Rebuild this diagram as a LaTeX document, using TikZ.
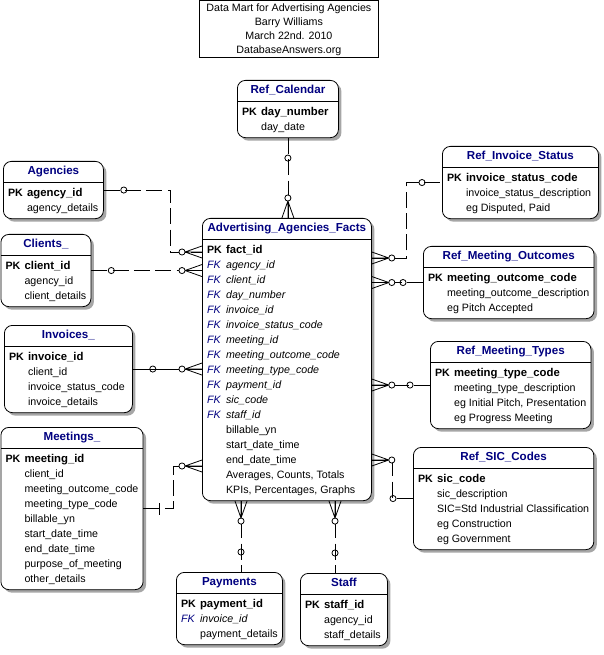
\documentclass[tikz,border=0pt]{standalone}
\usepackage{fontspec}
\setmainfont{Liberation Sans}
\usepackage{tikz}
\usetikzlibrary{shapes.multipart,shadows,calc,positioning}
\usepackage{xcolor}

\definecolor{erblue}{RGB}{0,0,128}

\newcommand{\entitle}[1]{{\fontsize{8.7}{11.25}\selectfont\textbf{\color{erblue}#1}}\strut}
\newcommand{\fields}[1]{\begin{tabular}{@{}p{14.25pt}@{}l@{}}#1\end{tabular}}
\newcommand{\pkrow}[1]{\textbf{PK}&{\fontsize{8.5}{11.25}\selectfont\textbf{#1}}\\}
\newcommand{\fkrow}[1]{\textit{\color{erblue}FK}&\textit{#1}\\}
\newcommand{\plainrow}[1]{&#1\\}

\tikzset{
  entity/.style={rectangle split, rectangle split parts=2,
    rectangle split part align={center,left},
    draw, line width=0.6pt, rounded corners=6pt, fill=white,
    drop shadow={shadow xshift=2.25pt, shadow yshift=-2.25pt, fill=black!35, opacity=1},
    inner xsep=3.5pt, inner ysep=2pt, anchor=north west},
  rel/.style={line width=0.6pt, dash pattern=on 12pt off 4pt},
  idrel/.style={line width=0.6pt},
  many/.pic={\draw[line width=0.6pt] (0,-6) -- (-17,0) -- (0,6) (0,0) -- (-17,0);
             \draw[line width=0.6pt, fill=white] (-20,0) circle[radius=2.3pt];},
  ring/.pic={\draw[line width=0.6pt] (-20,0) circle[radius=2.3pt];},
  bar/.pic={\draw[line width=0.6pt] (-16,-6) -- (-16,6);}
}

\begin{document}
\begin{tikzpicture}[x=0.75pt, y=-0.75pt, font=\fontsize{8}{11.25}\selectfont]
  \useasboundingbox (0,0) rectangle (603,655);

  % heading
  \node[draw, fill=white, line width=0.6pt, minimum width=134.25pt, minimum height=42.75pt,
        align=center, inner sep=0pt, font=\fontsize{8}{10.5}\selectfont, anchor=north west]
        (info) at (199,0.5) {Data Mart for Advertising Agencies\\Barry Williams\\March 22nd. 2010\\DatabaseAnswers.org};

  % entities
  \node[entity, minimum width=75.75pt, minimum height=47.25pt] (cal) at (237,80)
    {\entitle{Ref\_Calendar}\nodepart{two}\fields{\pkrow{day\_number}\plainrow{day\_date}}};
  \node[entity, minimum width=75pt, minimum height=46.5pt] (agencies) at (3,161)
    {\entitle{Agencies}\nodepart{two}\fields{\pkrow{agency\_id}\plainrow{agency\_details}}};
  \node[entity, minimum width=66.75pt, minimum height=57pt] (clients) at (0.5,234)
    {\entitle{Clients\_}\nodepart{two}\fields{\pkrow{client\_id}\plainrow{agency\_id}\plainrow{client\_details}}};
  \node[entity, minimum width=96pt, minimum height=69pt] (invoices) at (4,325)
    {\entitle{Invoices\_}\nodepart{two}\fields{\pkrow{invoice\_id}\plainrow{client\_id}\plainrow{invoice\_status\_code}\plainrow{invoice\_details}}};
  \node[entity, minimum width=105.75pt, minimum height=125.25pt] (meetings) at (0.5,427)
    {\entitle{Meetings\_}\nodepart{two}\fields{\pkrow{meeting\_id}\plainrow{client\_id}\plainrow{meeting\_outcome\_code}\plainrow{meeting\_type\_code}\plainrow{billable\_yn}\plainrow{start\_date\_time}\plainrow{end\_date\_time}\plainrow{purpose\_of\_meeting}\plainrow{other\_details}}};

  \node[entity, minimum width=126.75pt, minimum height=221.25pt] (facts) at (202,218)
    {\entitle{Advertising\_Agencies\_Facts}\nodepart{two}\fields{\pkrow{fact\_id}\fkrow{agency\_id}\fkrow{client\_id}\fkrow{day\_number}\fkrow{invoice\_id}\fkrow{invoice\_status\_code}\fkrow{meeting\_id}\fkrow{meeting\_outcome\_code}\fkrow{meeting\_type\_code}\fkrow{payment\_id}\fkrow{sic\_code}\fkrow{staff\_id}\plainrow{billable\_yn}\plainrow{start\_date\_time}\plainrow{end\_date\_time}\plainrow{Averages, Counts, Totals}\plainrow{KPIs, Percentages, Graphs}}};

  \node[entity, minimum width=117pt, minimum height=57pt] (ris) at (442,146)
    {\entitle{Ref\_Invoice\_Status}\nodepart{two}\fields{\pkrow{invoice\_status\_code}\plainrow{invoice\_status\_description}\plainrow{eg Disputed, Paid}}};
  \node[entity, minimum width=127.5pt, minimum height=57pt] (rmo) at (423,246)
    {\entitle{Ref\_Meeting\_Outcomes}\nodepart{two}\fields{\pkrow{meeting\_outcome\_code}\plainrow{meeting\_outcome\_description}\plainrow{eg Pitch Accepted}}};
  \node[entity, minimum width=117.75pt, minimum height=68.25pt] (rmt) at (430,341)
    {\entitle{Ref\_Meeting\_Types}\nodepart{two}\fields{\pkrow{meeting\_type\_code}\plainrow{meeting\_type\_description}\plainrow{eg Initial Pitch, Presentation}\plainrow{eg Progress Meeting}}};
  \node[entity, minimum width=134.25pt, minimum height=79.5pt] (sic) at (413,447)
    {\entitle{Ref\_SIC\_Codes}\nodepart{two}\fields{\pkrow{sic\_code}\plainrow{sic\_description}\plainrow{SIC=Std Industrial Classification}\plainrow{eg Construction}\plainrow{eg Government}}};

  \node[entity, minimum width=78pt, minimum height=57pt] (payments) at (176,572)
    {\entitle{Payments}\nodepart{two}\fields{\pkrow{payment\_id}\fkrow{invoice\_id}\plainrow{payment\_details}}};
  \node[entity, minimum width=65.25pt, minimum height=56.25pt] (staff) at (300,573)
    {\entitle{Staff}\nodepart{two}\fields{\pkrow{staff\_id}\plainrow{agency\_id}\plainrow{staff\_details}}};

  % attach points on the fact table
  \coordinate (fa) at ($(facts.north west)+(0,34)$);
  \coordinate (fm) at ($(facts.north west)+(0,248)$);
  \coordinate (fs) at ($(facts.north east)+(0,40)$);
  \coordinate (fsic) at ($(facts.north east)+(0,242)$);
  \coordinate (fp) at ($(facts.south west)+(39,0)$);
  \coordinate (fst) at ($(facts.south west)+(133,0)$);

  % relationships
  \draw[rel] (cal.south) -- (cal.south |- facts.north);
  \pic[rotate=90] at (cal.south) {ring};
  \pic[rotate=-90] at (cal.south |- facts.north) {many};

  \draw[rel] (agencies.east) -- ++(67,0) |- (fa);
  \pic[rotate=180] at (agencies.east) {ring};
  \pic at (fa) {many};

  \draw[rel] (clients.east) -- (facts.west |- clients.east);
  \pic[rotate=180] at (clients.east) {ring};
  \pic at (facts.west |- clients.east) {many};

  \draw[idrel] (invoices.east) -- (facts.west |- invoices.east);
  \pic[rotate=180] at (invoices.east) {ring};
  \pic at (facts.west |- invoices.east) {many};

  \draw[rel] (meetings.east) -- ++(30,0) |- (fm);
  \pic[rotate=180] at (meetings.east) {bar};
  \pic at (fm) {many};

  \draw[rel] (fs) -- ++(35,0) |- (ris.west);
  \pic[rotate=180] at (fs) {many};
  \pic at (ris.west) {ring};

  \draw[rel] (rmo.west) -- (facts.east |- rmo.west);
  \pic at (rmo.west) {ring};
  \pic[rotate=180] at (facts.east |- rmo.west) {many};

  \draw[rel] (rmt.west) -- (facts.east |- rmt.west);
  \pic at (rmt.west) {ring};
  \pic[rotate=180] at (facts.east |- rmt.west) {many};

  \draw[rel] (fsic) -- ++(21,0) |- (sic.west);
  \pic[rotate=180] at (fsic) {many};
  \pic at (sic.west) {ring};

  \draw[rel] (fp) -- (fp |- payments.north);
  \pic[rotate=90] at (fp) {many};
  \pic[rotate=-90] at (fp |- payments.north) {ring};

  \draw[rel] (fst) -- (fst |- staff.north);
  \pic[rotate=90] at (fst) {many};
  \pic[rotate=-90] at (fst |- staff.north) {ring};
\end{tikzpicture}
\end{document}
